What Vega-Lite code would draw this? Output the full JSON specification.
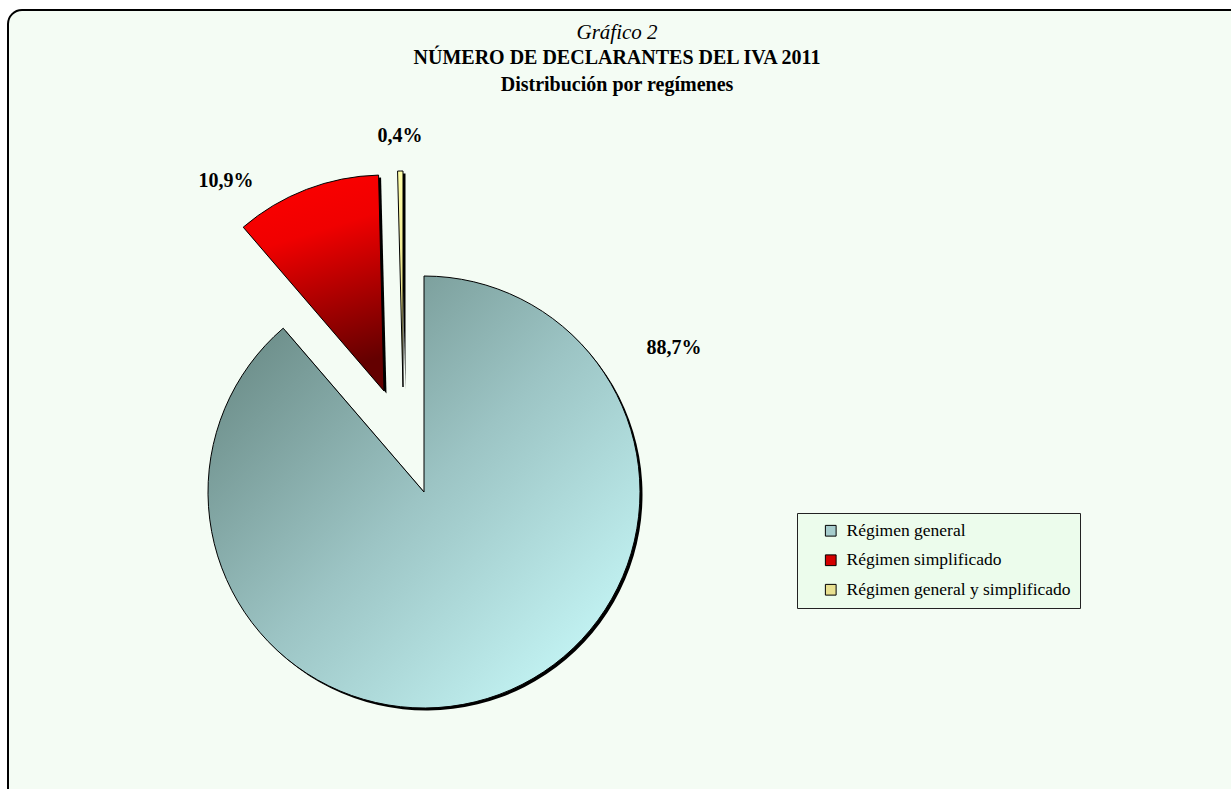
{
  "$schema": "https://vega.github.io/schema/vega-lite/v6.json",
  "autosize": {"type": "none"},
  "padding": {"left": 8, "top": 10, "right": 0, "bottom": 0},
  "width": 1240,
  "height": 800,
  "background": "#ffffff",
  "view": {"fill": "#f4fcf4", "stroke": "#000000", "strokeWidth": 2, "cornerRadius": 14},
  "config": {
    "view": {"fill": "#f4fcf4", "stroke": "#000000", "strokeWidth": 2, "cornerRadius": 14},
    "font": "Liberation Serif"
  },
  "title": {
    "text": "Gráfico 2",
    "subtitle": ["NÚMERO DE DECLARANTES DEL IVA 2011", "Distribución por regímenes"],
    "anchor": "middle",
    "orient": "top",
    "offset": -85,
    "dx": -11,
    "font": "Liberation Serif",
    "fontSize": 21,
    "fontStyle": "italic",
    "fontWeight": "normal",
    "color": "#000000",
    "subtitleFont": "Liberation Serif",
    "subtitleFontSize": 20,
    "subtitleFontWeight": "bold",
    "subtitleColor": "#000000",
    "subtitleLineHeight": 27,
    "subtitlePadding": 5
  },
  "data": {
    "values": [
      {"idx": 1, "regimen": "Régimen general", "pct": 88.7, "label": "88,7%"},
      {"idx": 2, "regimen": "Régimen simplificado", "pct": 10.9, "label": "10,9%"},
      {"idx": 3, "regimen": "Régimen general y simplificado", "pct": 0.4, "label": "0,4%"}
    ]
  },
  "transform": [
    {"stack": "pct", "groupby": [], "sort": [{"field": "idx", "order": "ascending"}], "as": ["v0", "v1"]}
  ],
  "encoding": {
    "theta": {"field": "v0", "type": "quantitative", "stack": null, "scale": {"domain": [0, 100]}},
    "theta2": {"field": "v1"}
  },
  "layer": [
    {
      "mark": {"type": "arc", "radius": 0, "x": 416, "y": 482},
      "encoding": {
        "color": {
          "field": "regimen",
          "type": "nominal",
          "sort": null,
          "scale": {
            "domain": ["Régimen general", "Régimen simplificado", "Régimen general y simplificado"],
            "range": ["#a6cccc", "#d40000", "#e8e090"]
          },
          "legend": {
            "title": null,
            "orient": "none",
            "legendX": 789,
            "legendY": 503,
            "direction": "vertical",
            "fillColor": "#ecfcec",
            "strokeColor": "#222222",
            "padding": 9,
            "symbolOffset": 16,
            "symbolType": "square",
            "symbolSize": 115,
            "symbolStrokeColor": "#000000",
            "symbolStrokeWidth": 1,
            "labelFont": "Liberation Serif",
            "labelFontSize": 17.5,
            "labelColor": "#000000",
            "labelOffset": 7,
            "labelLimit": 400,
            "rowPadding": 10.5
          }
        }
      }
    },
    {
      "transform": [{"filter": "datum.idx == 1"}],
      "mark": {"type": "arc", "radius": 216, "x": 418.5, "y": 484.5, "fill": "#000000"}
    },
    {
      "transform": [{"filter": "datum.idx == 2"}],
      "mark": {"type": "arc", "radius": 216, "x": 378.5, "y": 383.5, "fill": "#000000"}
    },
    {
      "transform": [{"filter": "datum.idx == 3"}],
      "mark": {"type": "arc", "radius": 216, "x": 397.5, "y": 379.5, "fill": "#000000"}
    },
    {
      "transform": [{"filter": "datum.idx == 1"}],
      "mark": {
        "type": "arc", "radius": 216, "x": 416, "y": 482,
        "stroke": "#000000", "strokeWidth": 1,
        "fill": {"gradient": "linear", "x1": 0, "y1": 0.1, "x2": 0.9, "y2": 1,
          "stops": [{"offset": 0, "color": "#64847f"}, {"offset": 0.5, "color": "#9cc4c4"}, {"offset": 1, "color": "#cafcfc"}]}
      }
    },
    {
      "transform": [{"filter": "datum.idx == 2"}],
      "mark": {
        "type": "arc", "radius": 216, "x": 376, "y": 381,
        "stroke": "#000000", "strokeWidth": 1,
        "fill": {"gradient": "linear", "x1": 0, "y1": 0, "x2": 0.2, "y2": 1,
          "stops": [{"offset": 0, "color": "#ff0000"}, {"offset": 0.35, "color": "#f00000"}, {"offset": 1, "color": "#640000"}]}
      }
    },
    {
      "transform": [{"filter": "datum.idx == 3"}],
      "mark": {
        "type": "arc", "radius": 216, "x": 395, "y": 377,
        "stroke": "#000000", "strokeWidth": 1,
        "fill": {"gradient": "linear", "x1": 0, "y1": 0, "x2": 0, "y2": 1,
          "stops": [{"offset": 0, "color": "#ffffa8"}, {"offset": 0.6, "color": "#e8e088"}, {"offset": 1, "color": "#a8a050"}]}
      }
    },
    {
      "transform": [{"filter": "datum.idx == 1"}],
      "mark": {"type": "text", "x": 416, "y": 482, "radius": 288.5, "thetaOffset": 1.048,
        "font": "Liberation Serif", "fontSize": 20, "fontWeight": "bold", "color": "#000000", "align": "center", "baseline": "middle"},
      "encoding": {"text": {"field": "label"}, "theta2": null}
    },
    {
      "transform": [{"filter": "datum.idx == 2"}],
      "mark": {"type": "text", "x": 376, "y": 381, "radius": 262.8, "thetaOffset": 0.065,
        "font": "Liberation Serif", "fontSize": 20, "fontWeight": "bold", "color": "#000000", "align": "center", "baseline": "middle"},
      "encoding": {"text": {"field": "label"}, "theta2": null}
    },
    {
      "transform": [{"filter": "datum.idx == 3"}],
      "mark": {"type": "text", "x": 395, "y": 377, "radius": 251, "thetaOffset": 0.013,
        "font": "Liberation Serif", "fontSize": 20, "fontWeight": "bold", "color": "#000000", "align": "center", "baseline": "middle"},
      "encoding": {"text": {"field": "label"}, "theta2": null}
    }
  ]
}
